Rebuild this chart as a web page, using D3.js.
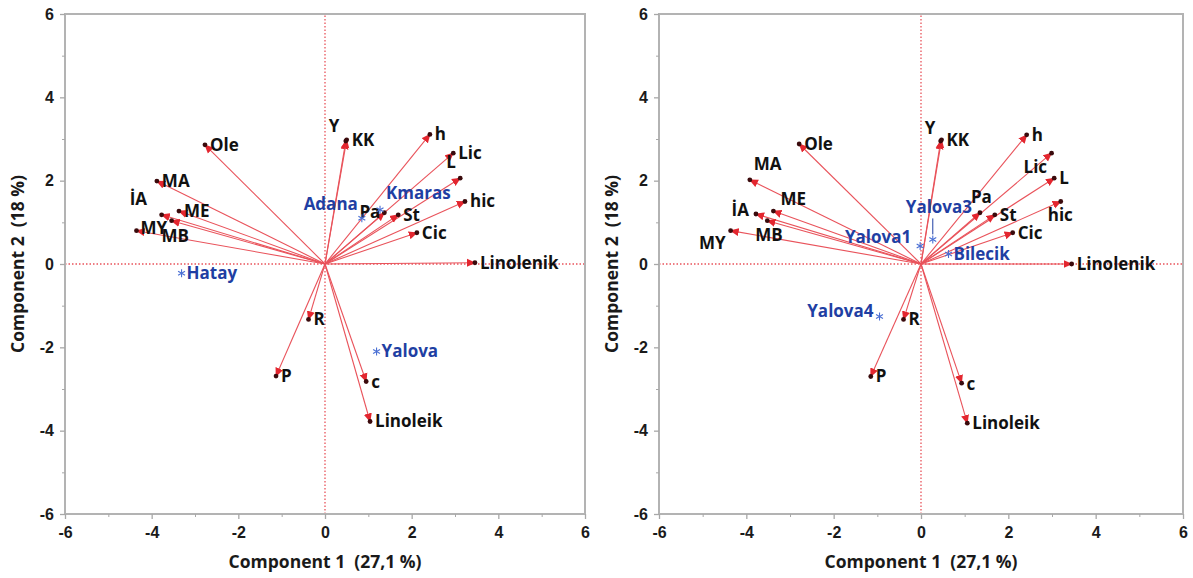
<!DOCTYPE html>
<html>
<head>
<meta charset="utf-8">
<script src="https://cdn.jsdelivr.net/npm/d3@7"></script>
<style>
  html, body { margin: 0; padding: 0; background: #fff; }
  svg { display: block; font-family: "Open Sans", "Noto Sans", sans-serif; }
</style>
</head>
<body>
<svg id="chart" width="1193" height="578"></svg>
<script>
// ---------- DATA ----------
const loadingNames = ["Ole","MA","İA","ME","MB","MY","Y","KK","h","Lic","L","hic","Pa","St","Cic","Linolenik","R","P","c","Linoleik"];
const leftPC1  = [-2.77,-3.88,-3.77,-3.37,-3.54,-4.35,0.48,0.50,2.42,2.96,3.12,3.23,1.37,1.69,2.12,3.46,-0.38,-1.13,0.95,1.04];
const leftPC2  = [ 2.86, 1.99, 1.18, 1.27, 1.04, 0.80,2.95,2.98,3.11,2.66,2.06,1.50,1.23,1.18,0.75,0.03,-1.33,-2.69,-2.82,-3.78];
const rightPC1 = [-2.79,-3.92,-3.78,-3.38,-3.52,-4.36,0.45,0.47,2.42,2.99,3.05,3.20,1.35,1.69,2.10,3.45,-0.40,-1.15,0.93,1.06];
const rightPC2 = [ 2.88, 2.02, 1.20, 1.27, 1.04, 0.80,2.95,2.98,3.10,2.66,2.06,1.50,1.23,1.18,0.75,0.00,-1.33,-2.70,-2.86,-3.82];

const leftObsNames  = ["Hatay","Yalova","Adana","Kmaras"];
const leftObsPC1    = [-3.31, 1.19, 0.85, 1.27];
const leftObsPC2    = [-0.22,-2.10, 1.10, 1.30];
const rightObsNames = ["Yalova1","Yalova3","Bilecik","Yalova4"];
const rightObsPC1   = [-0.02, 0.27, 0.63,-0.95];
const rightObsPC2   = [ 0.43, 0.59, 0.24,-1.26];

const axisTicks = [-6,-4,-2,0,2,4,6];
const minorTicks = [-5,-3,-1,1,3,5];
const xTitle = "Component 1  (27,1 %)";
const yTitle = "Component 2  (18 %)";

// ---------- LABEL LAYOUT (px offsets from arrow tip) ----------
const R = {a:"start", dx:5, dy:0};
const leftLabelLayout = {
  "Ole":R, "MA":R, "İA":{a:"start",dx:-32,dy:-16}, "ME":R,
  "MB":{a:"start",dx:-10,dy:15}, "MY":{a:"start",dx:4,dy:-3},
  "Y":{a:"start",dx:-17,dy:-15}, "KK":R, "h":R, "Lic":R,
  "L":{a:"start",dx:-14,dy:-16}, "hic":R, "Pa":{a:"end",dx:-4,dy:-1},
  "St":R, "Cic":R, "Linolenik":R, "R":R, "P":R, "c":{a:"start",dx:5,dy:1}, "Linoleik":R
};
const rightLabelLayout = {
  "Ole":R, "MA":{a:"start",dx:4,dy:-16}, "İA":{a:"end",dx:-7,dy:-4},
  "ME":{a:"start",dx:7,dy:-12}, "MB":{a:"start",dx:-12,dy:14},
  "MY":{a:"end",dx:-5,dy:12}, "Y":{a:"start",dx:-16,dy:-13}, "KK":R, "h":R,
  "Lic":{a:"start",dx:-28,dy:14}, "L":R, "hic":{a:"start",dx:-13,dy:14},
  "Pa":{a:"start",dx:-9,dy:-16}, "St":R, "Cic":R, "Linolenik":R, "R":R, "P":R,
  "c":{a:"start",dx:5,dy:1}, "Linoleik":R
};
const leftObsLayout = {
  "Hatay":{a:"start",dx:5,dy:0}, "Yalova":{a:"start",dx:5,dy:0},
  "Adana":{a:"end",dx:-4,dy:-14}, "Kmaras":{a:"start",dx:6,dy:-17}
};
const rightObsLayout = {
  "Yalova1":{a:"end",dx:-9,dy:-9}, "Yalova3":{a:"start",dx:-27,dy:-32,leader:true},
  "Bilecik":{a:"start",dx:5,dy:0}, "Yalova4":{a:"end",dx:-6,dy:-5}
};

// ---------- DRAW ----------
const svg = d3.select("#chart");
const RED_LINE = "#e9535b", RED_HEAD = "#e3262f", BLUE = "#1f3fa3", STAR = "#4a6fd4";
const LABEL_SIZE = "17px", TICK_SIZE = "16px", TITLE_SIZE = "17.5px";

const defs = svg.append("defs");
defs.append("marker").attr("id","ah").attr("viewBox","0 -5 10 10")
  .attr("refX",9).attr("refY",0).attr("markerWidth",9).attr("markerHeight",9)
  .attr("markerUnits","userSpaceOnUse").attr("orient","auto")
  .append("path").attr("d","M0,-4.5L10,0L0,4.5Z").attr("fill",RED_HEAD);

function panel(left, right, top, bottom, pc1, pc2, layout, obsNames, obsX, obsY, obsLayout) {
  const x = d3.scaleLinear().domain([-6,6]).range([left,right]);
  const y = d3.scaleLinear().domain([-6,6]).range([bottom,top]);
  const g = svg.append("g");

  // zero reference lines
  g.append("line").attr("x1",x(-6)).attr("x2",x(6)).attr("y1",y(0)).attr("y2",y(0))
    .attr("stroke",RED_LINE).attr("stroke-width",1.3).attr("stroke-dasharray","1.5,2");
  g.append("line").attr("x1",x(0)).attr("x2",x(0)).attr("y1",y(-6)).attr("y2",y(6))
    .attr("stroke",RED_LINE).attr("stroke-width",1.3).attr("stroke-dasharray","1.5,2");

  // frame
  g.append("rect").attr("x",left).attr("y",top).attr("width",right-left).attr("height",bottom-top)
    .attr("fill","none").attr("stroke","#b3b3b3").attr("stroke-width",2);

  // axes
  const fmt = d => String(d);
  const xa = g.append("g").attr("transform",`translate(0,${bottom})`)
    .call(d3.axisBottom(x).tickValues(axisTicks).tickSize(5).tickPadding(8).tickFormat(fmt));
  const ya = g.append("g").attr("transform",`translate(${left},0)`)
    .call(d3.axisLeft(y).tickValues(axisTicks).tickSize(5).tickPadding(6).tickFormat(fmt));
  [xa,ya].forEach(a => {
    a.select(".domain").remove();
    a.selectAll(".tick line").attr("stroke","#a8a8a8").attr("stroke-width",1.3);
    a.selectAll(".tick text").attr("fill","#1a1a1a").style("font-size",TICK_SIZE).style("font-weight","700");
  });
  g.append("g").attr("transform",`translate(0,${bottom})`)
    .call(d3.axisBottom(x).tickValues(minorTicks).tickSize(3).tickFormat(""))
    .call(a => { a.select(".domain").remove(); a.selectAll("line").attr("stroke","#a8a8a8"); });
  g.append("g").attr("transform",`translate(${left},0)`)
    .call(d3.axisLeft(y).tickValues(minorTicks).tickSize(3).tickFormat(""))
    .call(a => { a.select(".domain").remove(); a.selectAll("line").attr("stroke","#a8a8a8"); });

  // titles
  g.append("text").attr("x",(left+right)/2).attr("y",568).attr("text-anchor","middle")
    .style("white-space","pre").style("font-size",TITLE_SIZE).style("font-weight","700")
    .attr("fill","#1a1a1a").text(xTitle);
  g.append("text").attr("transform",`translate(${left-47},${(top+bottom)/2}) rotate(-90)`)
    .attr("dy","0.35em").attr("text-anchor","middle").style("white-space","pre")
    .style("font-size",TITLE_SIZE).style("font-weight","700")
    .attr("fill","#1a1a1a").text(yTitle);

  // loadings
  const data = loadingNames.map((n,i)=>({n, x:pc1[i], y:pc2[i]}));
  g.selectAll(".vec").data(data).enter().append("line")
    .attr("x1",x(0)).attr("y1",y(0)).attr("x2",d=>x(d.x)).attr("y2",d=>y(d.y))
    .attr("stroke",RED_LINE).attr("stroke-width",1.1).attr("marker-end","url(#ah)");
  g.selectAll(".tip").data(data).enter().append("circle")
    .attr("cx",d=>x(d.x)).attr("cy",d=>y(d.y)).attr("r",2.4).attr("fill","#3a0a0c");
  g.selectAll(".lab").data(data).enter().append("text")
    .attr("x",d=>x(d.x)+layout[d.n].dx).attr("y",d=>y(d.y)+layout[d.n].dy)
    .attr("dy","0.35em").attr("text-anchor",d=>layout[d.n].a)
    .style("font-size",LABEL_SIZE).style("font-weight","700").attr("fill","#111").text(d=>d.n);

  // observations
  const obs = obsNames.map((n,i)=>({n, x:obsX[i], y:obsY[i]}));
  const star = g.selectAll(".star").data(obs).enter().append("g")
    .attr("transform",d=>`translate(${x(d.x)},${y(d.y)})`);
  [0,60,120].forEach(a=>{
    star.append("line").attr("x1",-4).attr("x2",4).attr("y1",0).attr("y2",0)
      .attr("transform",`rotate(${a+90})`).attr("stroke",STAR).attr("stroke-width",1.1);
  });
  g.selectAll(".olab").data(obs).enter().append("text")
    .attr("x",d=>x(d.x)+obsLayout[d.n].dx).attr("y",d=>y(d.y)+obsLayout[d.n].dy)
    .attr("dy","0.35em").attr("text-anchor",d=>obsLayout[d.n].a)
    .style("font-size",LABEL_SIZE).style("font-weight","700").attr("fill",BLUE).text(d=>d.n);
  g.selectAll(".leader").data(obs.filter(d=>obsLayout[d.n].leader)).enter().append("line")
    .attr("x1",d=>x(d.x)).attr("x2",d=>x(d.x)).attr("y1",d=>y(d.y)-21).attr("y2",d=>y(d.y)-5)
    .attr("stroke",BLUE).attr("stroke-width",1);
}

panel(65, 585, 14, 514, leftPC1, leftPC2, leftLabelLayout, leftObsNames, leftObsPC1, leftObsPC2, leftObsLayout);
panel(659, 1183, 14, 514, rightPC1, rightPC2, rightLabelLayout, rightObsNames, rightObsPC1, rightObsPC2, rightObsLayout);
</script>
</body>
</html>
